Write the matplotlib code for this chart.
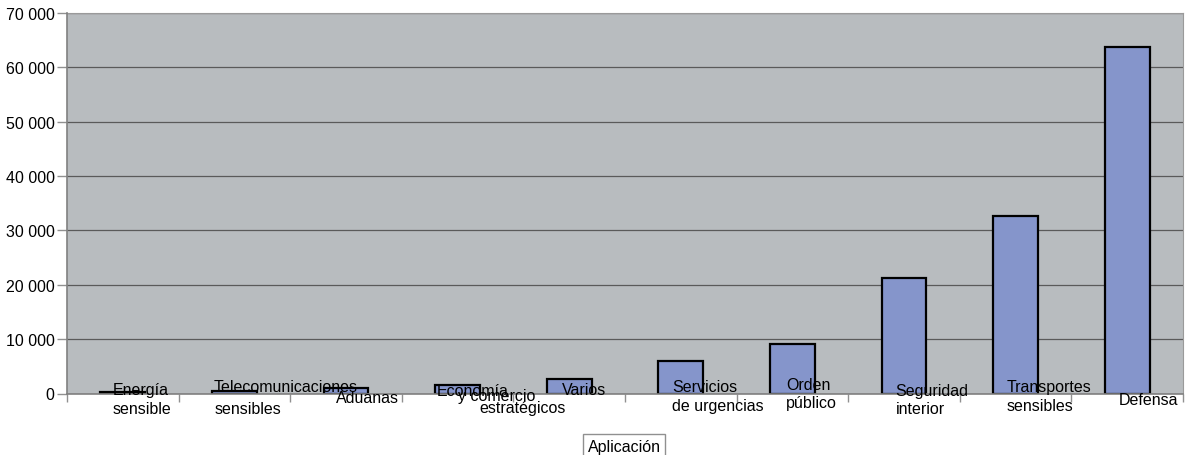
import numpy as np
import matplotlib.pyplot as plt
from matplotlib.ticker import FuncFormatter, MultipleLocator

plt.rcParams['font.family'] = ['Liberation Sans', 'DejaVu Sans']

# datos
categorias = ["Energía\nsensible", "Telecomunicaciones\nsensibles", "Aduanas",
              "Economía\ny comercio\nestratégicos", "Varios",
              "Servicios\nde urgencias", "Orden\npúblico",
              "Seguridad\ninterior", "Transportes\nsensibles", "Defensa"]
valores = [300, 550, 1000, 1600, 2600, 5900, 9100, 21300, 32700, 63700]
eje_x = "Aplicación"

# desplazamientos (pixeles) de cada linea de etiqueta, como los dibuja el original
desplaz = [
    [(-10, -1), (-10, -20)],
    [(-21, 2.5), (-20, -20)],
    [(-10, -8.5)],
    [(-21, -2), (0, -7), (22, -18.5)],
    [(-7, -0.5)],
    [(-9, 2.5), (-9, -16.5)],
    [(-6, 4), (-6, -13.5)],
    [(-9, -1.5), (-8, -19.5)],
    [(-9, 2), (-9, -17)],
    [(-8, -10.5)],
]

fig = plt.figure(figsize=(11.91, 4.56), dpi=100)
W, H = 1191, 456
ax = fig.add_axes([67 / W, (H - 394.5) / H, (1183 - 67) / W, (394.5 - 14) / H])
ax.set_facecolor('#b8bcbf')

x = np.arange(len(valores))
ax.bar(x, valores, width=0.4, color='#8595cb', edgecolor='black', linewidth=1.6, zorder=3)

ax.set_xlim(-0.5, len(valores) - 0.5)
ax.set_ylim(0, 70000)
ax.yaxis.set_major_locator(MultipleLocator(10000))
ax.yaxis.set_major_formatter(FuncFormatter(lambda v, p: f"{int(v):,}".replace(",", " ")))
ax.grid(axis='y', color='#5a5a5a', linewidth=0.9, zorder=1)

ax.set_xticks(np.arange(len(valores) + 1) - 0.5)
ax.set_xticklabels([])
ax.tick_params(axis='x', length=6, color='#909090', width=1)
ax.tick_params(axis='y', length=7, color='#909090', width=1, labelsize=11.5, pad=2)

for lado in ['top', 'right']:
    ax.spines[lado].set_color('#9a9a9a')
for lado in ['left', 'bottom']:
    ax.spines[lado].set_color('#808080')
    ax.spines[lado].set_linewidth(1.2)
    ax.spines[lado].set_zorder(4)

for i, etiqueta in enumerate(categorias):
    for linea, (dx, dy) in zip(etiqueta.split("\n"), desplaz[i]):
        ax.annotate(linea, xy=(i, 0), xycoords=('data', 'axes fraction'),
                    xytext=(dx, dy), textcoords='offset pixels',
                    ha='left', va='baseline', fontsize=11.5, zorder=6,
                    annotation_clip=False)

fig.text(624 / W, (H - 452) / H, eje_x, ha='center', va='baseline', fontsize=11.5,
         bbox=dict(boxstyle='square,pad=0.3', facecolor='white', edgecolor='#909090', linewidth=1))

fig.savefig('out.png', dpi=100)
